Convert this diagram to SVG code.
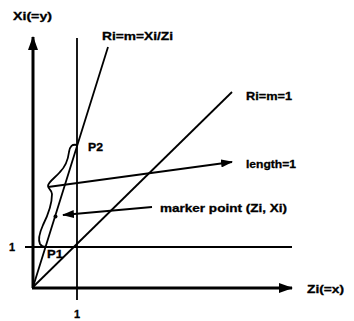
<svg xmlns="http://www.w3.org/2000/svg" width="354" height="321" viewBox="0 0 354 321">
<style>
text{font-family:"Liberation Sans",Arial,sans-serif;font-weight:bold;font-size:11px;fill:#000;stroke:#000;stroke-width:0.3}
.ln{stroke:#000;stroke-width:1.8;fill:none}
.ax{stroke:#000;stroke-width:3;fill:none}
</style>
<defs>
<marker id="big" markerWidth="14" markerHeight="10" refX="13" refY="5" orient="auto" markerUnits="userSpaceOnUse"><path d="M0,0 L14,5 L0,10 Z" fill="#000"/></marker>
<marker id="sm" markerWidth="12" markerHeight="8" refX="11" refY="4" orient="auto" markerUnits="userSpaceOnUse"><path d="M0,0 L12,4 L0,8 Z" fill="#000"/></marker>
</defs>
<rect width="354" height="321" fill="#fff"/>
<g id="axes">
<line class="ax" x1="33" y1="288" x2="33" y2="37" marker-end="url(#big)"/>
<line class="ax" x1="32" y1="288" x2="292" y2="288" marker-end="url(#big)"/>
</g>
<g id="connectors">
<line class="ln" x1="77" y1="38" x2="77" y2="300"/>
<line class="ln" x1="25" y1="247" x2="292" y2="247"/>
<line class="ln" x1="33" y1="287" x2="232" y2="92"/>
<line class="ln" x1="33" y1="287" x2="108" y2="47"/>
<path class="ln" d="M77,145 C72,144 70,146 69,152 C68,160 66,166 60,172 C55,178 48,182 48,186 C48,189 52,190 52,194 C52,205 48,215 43,225 C39,234 38,240 40,244 C42,247 45,247 46,247"/>
<line class="ln" x1="48" y1="187" x2="232" y2="162" marker-end="url(#sm)"/>
<line class="ln" x1="152" y1="207" x2="63" y2="215" marker-end="url(#sm)"/>
<circle cx="55.5" cy="216.5" r="2" fill="#000"/>
</g>
<g id="labels">
<text x="13" y="20" textLength="39" lengthAdjust="spacingAndGlyphs">Xi(=y)</text>
<text x="102" y="40" textLength="71" lengthAdjust="spacingAndGlyphs">Ri=m=Xi/Zi</text>
<text x="246" y="100" textLength="46" lengthAdjust="spacingAndGlyphs">Ri=m=1</text>
<text x="246" y="168" textLength="50" lengthAdjust="spacingAndGlyphs">length=1</text>
<text x="160" y="212" textLength="127" lengthAdjust="spacingAndGlyphs">marker point (Zi, Xi)</text>
<text x="307" y="293" textLength="37" lengthAdjust="spacingAndGlyphs">Zi(=x)</text>
<text x="88" y="151" textLength="15" lengthAdjust="spacingAndGlyphs">P2</text>
<text x="47" y="258" textLength="16" lengthAdjust="spacingAndGlyphs">P1</text>
<text x="9" y="251">1</text>
<text x="74" y="318">1</text>
</g>
</svg>
